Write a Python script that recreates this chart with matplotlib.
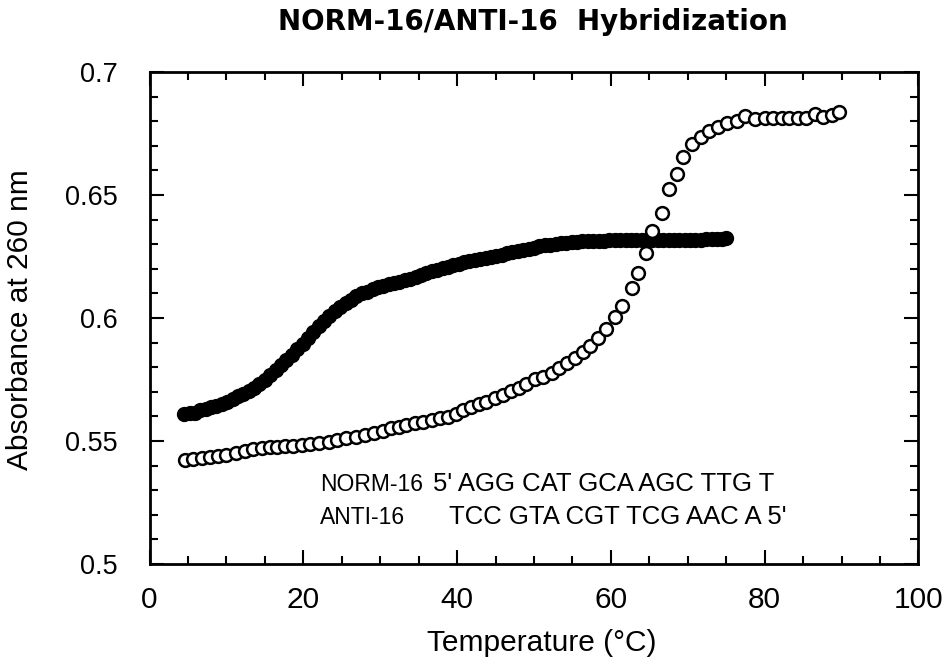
import matplotlib
matplotlib.use("Agg")
import matplotlib.pyplot as plt
from matplotlib.ticker import MultipleLocator, FuncFormatter

plt.rcParams["font.family"] = ["Liberation Sans", "DejaVu Sans"]

# duplex NORM-16/ANTI-16 (filled circles)
duplex_temp = [4.5, 5.2, 5.9, 6.6, 7.3, 8.0, 8.7, 9.4, 10.1, 10.8,
               11.5, 12.2, 12.9, 13.6, 14.3, 15.0, 15.7, 16.4, 17.1, 17.8,
               18.5, 19.2, 19.9, 20.6, 21.3, 22.0, 22.7, 23.4, 24.1, 24.8,
               25.5, 26.2, 26.9, 27.6, 28.3, 29.0, 29.7, 30.4, 31.1, 31.8,
               32.5, 33.2, 33.9, 34.6, 35.3, 36.0, 36.7, 37.4, 38.1, 38.8,
               39.5, 40.2, 40.9, 41.6, 42.3, 43.0, 43.7, 44.4, 45.1, 45.8,
               46.5, 47.2, 47.9, 48.6, 49.3, 50.0, 50.7, 51.4, 52.1, 52.8,
               53.5, 54.2, 54.9, 55.6, 56.3, 57.0, 57.7, 58.4, 59.1, 59.8,
               60.5, 61.2, 61.9, 62.6, 63.3, 64.0, 64.7, 65.4, 66.1, 66.8,
               67.5, 68.2, 68.9, 69.6, 70.3, 71.0, 71.7, 72.4, 73.1, 73.8,
               74.5, 75.0]
duplex_abs = [0.5610, 0.5613, 0.5615, 0.5625, 0.5632, 0.5637, 0.5643, 0.5651, 0.5660, 0.5670,
              0.5682, 0.5693, 0.5703, 0.5716, 0.5732, 0.5748, 0.5767, 0.5787, 0.5808, 0.5829,
              0.5851, 0.5874, 0.5895, 0.5918, 0.5943, 0.5966, 0.5987, 0.6008, 0.6027, 0.6045,
              0.6060, 0.6073, 0.6089, 0.6100, 0.6107, 0.6116, 0.6124, 0.6131, 0.6137, 0.6143,
              0.6147, 0.6153, 0.6160, 0.6167, 0.6175, 0.6183, 0.6190, 0.6196, 0.6202, 0.6208,
              0.6214, 0.6221, 0.6226, 0.6231, 0.6236, 0.6240, 0.6244, 0.6249, 0.6254, 0.6258,
              0.6263, 0.6268, 0.6272, 0.6276, 0.6281, 0.6286, 0.6291, 0.6295, 0.6298, 0.6301,
              0.6303, 0.6305, 0.6307, 0.6309, 0.6311, 0.6312, 0.6313, 0.6314, 0.6315, 0.6316,
              0.6317, 0.6317, 0.6317, 0.6316, 0.6317, 0.6317, 0.6317, 0.6316, 0.6316, 0.6317,
              0.6317, 0.6317, 0.6318, 0.6318, 0.6318, 0.6319, 0.6319, 0.6320, 0.6321, 0.6322,
              0.6323, 0.6325]

# open circles
open_temp = [4.6, 5.7, 6.8, 7.9, 8.9, 10.0, 11.3, 12.4, 13.5, 14.6,
             15.7, 16.6, 17.6, 18.7, 19.8, 20.9, 22.1, 23.3, 24.4, 25.6,
             26.8, 28.0, 29.2, 30.3, 31.4, 32.4, 33.4, 34.5, 35.6, 36.7,
             37.8, 38.8, 39.8, 40.8, 41.8, 42.8, 43.8, 44.9, 46.0, 47.0,
             48.0, 49.0, 50.1, 51.2, 52.3, 53.3, 54.3, 55.3, 56.4, 57.3,
             58.3, 59.3, 60.5, 61.5, 62.7, 63.5, 64.6, 65.4, 66.6, 67.5,
             68.6, 69.4, 70.6, 71.7, 72.7, 73.9, 75.1, 76.4, 77.5, 78.7,
             80.0, 81.1, 82.2, 83.2, 84.3, 85.4, 86.5, 87.6, 88.7, 89.7]
open_abs = [0.5423, 0.5426, 0.5430, 0.5434, 0.5439, 0.5443, 0.5452, 0.5460, 0.5466, 0.5470,
            0.5474, 0.5477, 0.5481, 0.5481, 0.5484, 0.5488, 0.5490, 0.5497, 0.5504, 0.5511,
            0.5517, 0.5524, 0.5534, 0.5542, 0.5552, 0.5558, 0.5565, 0.5572, 0.5578, 0.5585,
            0.5592, 0.5599, 0.5610, 0.5624, 0.5637, 0.5650, 0.5660, 0.5674, 0.5688, 0.5703,
            0.5717, 0.5732, 0.5750, 0.5761, 0.5775, 0.5796, 0.5816, 0.5836, 0.5863, 0.5885,
            0.5917, 0.5954, 0.6005, 0.6049, 0.6121, 0.6184, 0.6263, 0.6355, 0.6426, 0.6524,
            0.6585, 0.6655, 0.6706, 0.6734, 0.6760, 0.6778, 0.6791, 0.6802, 0.6821, 0.6808,
            0.6812, 0.6812, 0.6812, 0.6812, 0.6812, 0.6815, 0.6829, 0.6818, 0.6825, 0.6839]

fig = plt.figure(figsize=(9.47, 6.68), dpi=100)
ax = fig.add_axes([0.1579, 0.1557, 0.8120, 0.7365])

ax.plot(duplex_temp, duplex_abs, "o", ms=10, color="black", mec="black", mew=1)
ax.plot(open_temp, open_abs, "o", ms=9.2, mfc="white", mec="black", mew=1.8)

ax.set_xlim(0, 100)
ax.set_ylim(0.5, 0.7)
ax.xaxis.set_major_locator(MultipleLocator(20))
ax.xaxis.set_minor_locator(MultipleLocator(5))
ax.yaxis.set_major_locator(MultipleLocator(0.05))
ax.yaxis.set_minor_locator(MultipleLocator(0.01))
ax.yaxis.set_major_formatter(FuncFormatter(lambda v, p: "%g" % round(v, 3)))

ax.tick_params(which="both", direction="in", top=True, right=True, width=1.5)
ax.tick_params(which="major", length=10)
ax.tick_params(axis="y", which="major", pad=23, labelsize=19.5)
ax.tick_params(axis="x", which="major", pad=16, labelsize=21.5)
ax.tick_params(which="minor", length=5.5)
for s in ax.spines.values():
    s.set_linewidth(2)

ax.set_xlabel("Temperature (°C)", fontsize=21.5)
ax.xaxis.set_label_coords(0.510, -0.132)
ax.set_ylabel("Absorbance at 260 nm", fontsize=21.5)
ax.yaxis.set_label_coords(-0.150, 0.496)

fig.text(533 / 947, 1 - 22.5 / 668, "NORM-16/ANTI-16  Hybridization",
         family="DejaVu Sans", weight="bold", fontsize=20, ha="center", va="center")

ax.text(22.2, 0.5325, "NORM-16", fontsize=16.5, va="center")
ax.text(36.8, 0.5325, "5' AGG CAT GCA AGC TTG T", fontsize=18.5, va="center")
ax.text(22.2, 0.5191, "ANTI-16", fontsize=16.5, va="center")
ax.text(38.9, 0.5191, "TCC GTA CGT TCG AAC A 5'", fontsize=18.5, va="center")

fig.savefig("out.png", dpi=100)
